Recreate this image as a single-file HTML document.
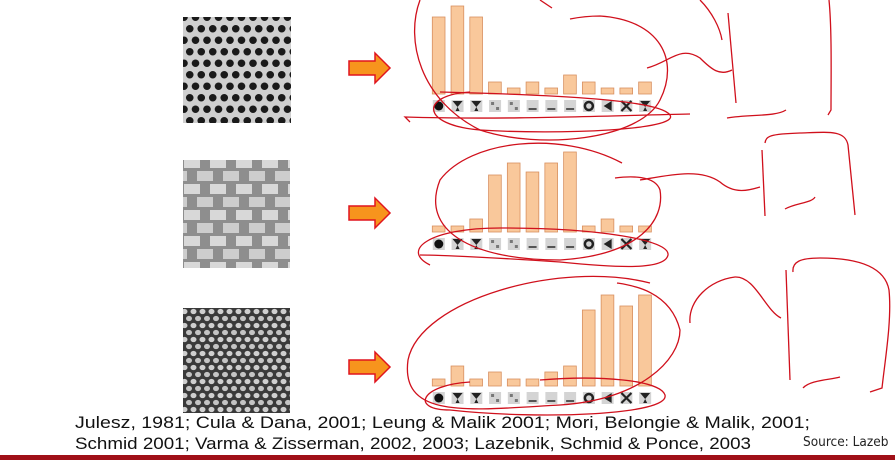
<!DOCTYPE html>
<html><head><meta charset="utf-8">
<style>
html,body{margin:0;padding:0;background:#fff;width:895px;height:460px;overflow:hidden}
svg{display:block}
</style></head>
<body>
<svg id="s" width="895" height="460" viewBox="0 0 895 460">
<defs>
<pattern id="dots" width="11.5" height="23" patternUnits="userSpaceOnUse">
<rect width="11.5" height="23" fill="#cfcfcf"/>
<circle cx="5.75" cy="5.75" r="3.8" fill="#1a1a1a"/>
<circle cx="0" cy="17.25" r="3.8" fill="#1a1a1a"/><circle cx="11.5" cy="17.25" r="3.8" fill="#1a1a1a"/>
</pattern>
<pattern id="bricks" width="26" height="26" patternUnits="userSpaceOnUse">
<rect width="26" height="26" fill="#8e8e8e"/>
<rect x="2" y="2" width="16" height="10" fill="#d8d8d8"/>
<rect x="15" y="15" width="16" height="10" fill="#cdcdcd"/><rect x="-11" y="15" width="16" height="10" fill="#cdcdcd"/>
</pattern>
<pattern id="hex" width="9" height="14" patternUnits="userSpaceOnUse">
<rect width="9" height="14" fill="#3a3a3a"/>
<ellipse cx="4.5" cy="3.5" rx="3" ry="2.6" fill="#cfcfcf"/>
<ellipse cx="0" cy="10.5" rx="3" ry="2.6" fill="#c4c4c4"/><ellipse cx="9" cy="10.5" rx="3" ry="2.6" fill="#c4c4c4"/>
</pattern>
</defs>

<rect x="183" y="17" width="108" height="106" fill="url(#dots)"/>
<rect x="183" y="160" width="107" height="108" fill="url(#bricks)"/>
<rect x="183" y="308" width="107" height="105" fill="url(#hex)"/>

<g id="arrows"></g>
<g id="charts"></g>

<g fill="none" stroke="#d0101c" stroke-width="1.3">
<path d="M420 0 C405 40,420 100,480 130 C540 150,640 140,660 100 C680 60,660 20,600 16 C585 16,575 18,570 19"/>
<path d="M540 0 L552 8"/>
<path d="M470 92 C420 95,420 125,480 130 C560 135,680 130,670 115 C660 100,560 95,440 92"/>
<path d="M410 122 L405 117 C500 120,600 116,690 114"/>
<path d="M622 163 C560 130,470 140,440 180 C420 230,470 260,560 260 C640 255,665 220,660 190 C655 175,630 176,615 178"/>
<path d="M430 265 C400 250,430 228,500 228 C600 228,670 240,668 255 C665 270,620 268,560 262 C500 258,440 255,420 255"/>
<path d="M650 283 C560 260,420 300,408 360 C400 420,470 410,560 405 C640 400,680 360,680 330 C670 290,630 285,617 283"/>
<path d="M470 382 C420 385,410 410,450 410 C540 420,670 415,665 395 C660 380,600 375,540 380"/>
<path d="M700 0 C712 12,720 28,722 40"/>
<path d="M647 68 C670 62,680 45,700 58 C712 70,720 76,732 70"/>
<path d="M728 13 L736 103"/>
<path d="M727 118 C750 114,775 117,786 110"/>
<path d="M829 0 C832 30,831 80,831 110 L828 115"/>
<path d="M640 180 C670 175,700 168,720 182 C735 195,750 190,760 187"/>
<path d="M762 150 L765 216"/>
<path d="M765 143 C766 136,770 134,800 133 C830 132,845 130,848 145 L855 215"/>
<path d="M785 209 C795 203,812 203,815 197"/>
<path d="M690 323 C688 300,710 280,735 277 C755 276,765 310,781 318"/>
<path d="M786 270 L790 380"/>
<path d="M793 272 C792 262,800 258,820 258 C860 258,885 268,889 290 C892 320,885 360,882 388 L870 392"/>
<path d="M803 388 C810 380,830 380,840 377"/>
</g>

<g font-family="'Liberation Sans',sans-serif" fill="#111">
<text x="75" y="428" font-size="17" textLength="735" lengthAdjust="spacingAndGlyphs">Julesz, 1981; Cula &amp; Dana, 2001; Leung &amp; Malik 2001; Mori, Belongie &amp; Malik, 2001;</text>
<text x="75" y="449" font-size="17" textLength="676" lengthAdjust="spacingAndGlyphs">Schmid 2001; Varma &amp; Zisserman, 2002, 2003; Lazebnik, Schmid &amp; Ponce, 2003</text>
</g>
<text x="803" y="446" font-family="'DejaVu Sans Condensed','Liberation Sans',sans-serif" font-size="13.5" fill="#222">Source: Lazeb</text>
<rect x="0" y="455" width="895" height="5" fill="#a01018"/>
</svg>
<script>
const binCount = 12;
const heightsDots = [77, 88, 77, 12, 6, 12, 6, 19, 12, 6, 6, 12];
const heightsBricks = [6, 6, 13, 57, 69, 60, 69, 80, 6, 13, 6, 6];
const heightsHex = [7, 20, 7, 14, 7, 7, 14, 20, 76, 91, 80, 91];
const NS = 'http://www.w3.org/2000/svg';
const charts = document.getElementById('charts');
const arrows = document.getElementById('arrows');
function mk(tag, attrs, parent){const e=document.createElementNS(NS,tag);for(const k in attrs)e.setAttribute(k,attrs[k]);parent.appendChild(e);return e;}
const x0 = 432.3, pitch = 18.76, bw = 12.7;
function xPos(i){return x0 + i*pitch;}
function yPos(base, v){return base - v;}
const iconShapes = ['dot','quad','y','grid','grid','bar','bar','bar','ring','ck','x','y'];
function drawChart(values, base, name){
  const g = mk('g', {}, charts);
  
  
  values.forEach((v,i)=>{
    const r = mk('rect', {x:xPos(i), y:yPos(base,v), width:bw, height:v, fill:'#f9c89b', stroke:'#d89060', 'stroke-width':0.8}, g);
    
    
    const ix = xPos(i)+0.5, iy = base+6;
    const ic = mk('g', {}, g);
    
    
    mk('rect', {x:ix, y:iy, width:12, height:12, fill:'#d4d4d4'}, ic);
    const s = iconShapes[i];
    if(s==='dot') mk('circle',{cx:ix+6,cy:iy+6,r:4.5,fill:'#111'},ic);
    else if(s==='ring') mk('circle',{cx:ix+6,cy:iy+6,r:4,fill:'none',stroke:'#222','stroke-width':2.5},ic);
    else if(s==='grid'){mk('rect',{x:ix+2,y:iy+2,width:3,height:3,fill:'#777'},ic);mk('rect',{x:ix+7,y:iy+7,width:3,height:3,fill:'#777'},ic);}
    else if(s==='bar') mk('rect',{x:ix+2,y:iy+8,width:8,height:2,fill:'#555'},ic);
    else if(s==='x'){mk('path',{d:`M${ix+1} ${iy+1}L${ix+11} ${iy+11}M${ix+11} ${iy+1}L${ix+1} ${iy+11}`,stroke:'#222','stroke-width':2.2},ic);}
    else if(s==='ck'){mk('path',{d:`M${ix+2} ${iy+6}L${ix+10} ${iy+1}L${ix+10} ${iy+11}Z`,fill:'#222'},ic);}
    else {mk('path',{d:`M${ix+1} ${iy+1}L${ix+11} ${iy+1}L${ix+6} ${iy+7}Z M${ix+4} ${iy+11}L${ix+8} ${iy+11}L${ix+6} ${iy+7}Z`,fill:'#222'},ic);}
  });
}
drawChart(heightsDots, 94, 'histogram-dots');
drawChart(heightsBricks, 232, 'histogram-bricks');
drawChart(heightsHex, 386, 'histogram-hex');
[68, 213, 367].forEach((cy,k)=>{
  const p = mk('path', {d:`M349 ${cy-7}L375 ${cy-7}L375 ${cy-15}L390 ${cy}L375 ${cy+15}L375 ${cy+7}L349 ${cy+7}Z`, fill:'#f7941d', stroke:'#e0141e', 'stroke-width':1.5}, arrows);
  
  
});
</script>
</body></html>
